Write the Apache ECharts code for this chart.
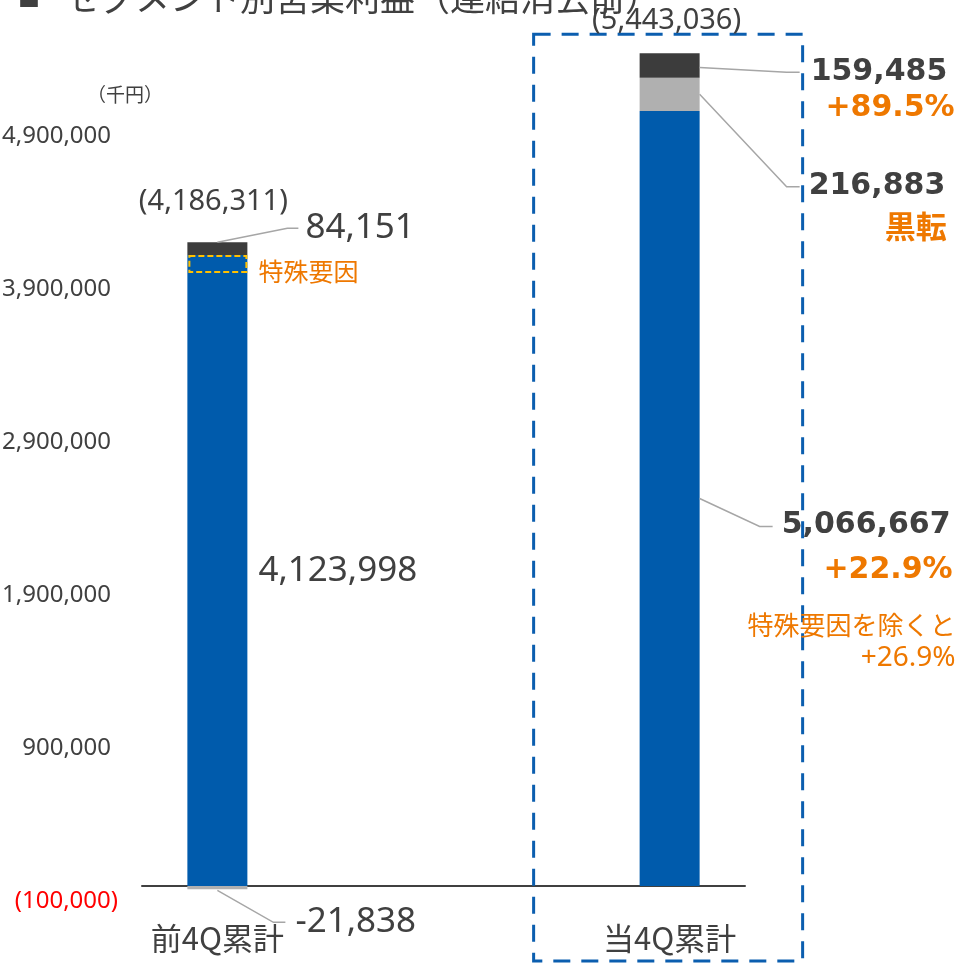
<!DOCTYPE html>
<html>
<head>
<meta charset="utf-8">
<script src="https://cdn.jsdelivr.net/npm/echarts@6/dist/echarts.min.js"></script>
<style>
  html, body { margin: 0; padding: 0; background: #fff; }
  #chart { width: 963px; height: 964px; }
</style>
</head>
<body>
<div id="chart"></div>
<script>
// 前4Q累計 / 当4Q累計 (two empty slots keep the bars apart)
var categories = ["前4Q累計", "", "", "当4Q累計"];
var baseSeg = [4123998, "-", "-", 5066667];   // blue
var midSeg = [-21838, "-", "-", 216883];      // light gray
var topSeg = [84151, "-", "-", 159485];       // dark gray
var totals = ["(4,186,311)", "(5,443,036)"];
var specialFactor = 110000;                   // dashed part inside the previous bar
var growthTop = "+89.5%";
var growthMid = "黒転";
var growthBase = "+22.9%";
var exclNote = ["特殊要因を除くと", "+26.9%"];

var TEXT = "#404040";
var ORANGE = "#EE7800";
var LATIN = '"Noto Sans", "Noto Sans CJK JP", sans-serif';
var CJK = '"Noto Sans CJK JP", sans-serif';
var BOLD = '"DejaVu Sans", "Noto Sans CJK JP", sans-serif';

function fmt(v) {
  return Math.round(v).toLocaleString("en-US");
}

function txt(s, x, y, size, color, family, extra) {
  var st = {
    text: s, x: x, y: y, fontSize: size, fill: color, fontFamily: family,
    align: "left", verticalAlign: "middle"
  };
  for (var k in extra) st[k] = extra[k];
  return { type: "text", style: st };
}

function leader(pts) {
  return {
    type: "polyline",
    shape: { points: pts },
    style: { stroke: "#A6A6A6", lineWidth: 1.5, fill: null }
  };
}

// leader lines, notes and the dashed frames, placed from the bar values
function renderNotes(params, api) {
  var i = api.value(0);
  var cx = api.coord([i, 0])[0];
  var y0 = api.coord([i, 0])[1];
  var y = function (v) { return api.coord([i, v])[1]; };
  var kids = [];

  if (i === 0) {
    var blueTop = y(baseSeg[0]);
    var top = y(baseSeg[0] + topSeg[0]);
    var neg = y(midSeg[0]);
    kids.push({
      type: "rect",
      shape: { x: cx - 28, y: blueTop + 1, width: 57, height: y(baseSeg[0] - specialFactor) - blueTop - 1 },
      style: { fill: null, stroke: "#FFC000", lineWidth: 2, lineDash: [6, 3] }
    });
    kids.push(txt("特殊要因", cx + 41, blueTop + 16, 25, ORANGE, CJK));
    kids.push(txt(totals[0], cx - 4, top - 40, 29, TEXT, LATIN, { align: "center" }));
    kids.push(leader([[cx, top], [cx + 70, top - 14], [cx + 81, top - 14]]));
    kids.push(txt(fmt(topSeg[0]), cx + 88, top - 14, 35, TEXT, LATIN));
    kids.push(leader([[cx, neg + 1], [cx + 56, neg + 33], [cx + 68, neg + 33]]));
    kids.push(txt(fmt(midSeg[0]), cx + 78, neg + 33, 35, TEXT, LATIN));
  } else {
    var bTop = y(baseSeg[3]);
    var gTop = y(baseSeg[3] + midSeg[3]);
    var tTop = y(baseSeg[3] + midSeg[3] + topSeg[3]);
    var bMid = (bTop + y0) / 2;
    var rightEdge = cx + 285;
    kids.push({
      type: "rect",
      shape: { x: cx - 136, y: tTop - 19, width: 269, height: y0 + 75 - (tTop - 19) },
      style: { fill: null, stroke: "#0B5EAF", lineWidth: 3, lineDash: [17, 11] }
    });
    kids.push(txt(totals[1], cx - 3, tTop - 33, 29, TEXT, LATIN, { align: "center" }));

    kids.push(leader([[cx + 30, (tTop + gTop) / 2 + 2], [cx + 117, tTop + 19], [cx + 130, tTop + 19]]));
    kids.push(txt(fmt(topSeg[3]), cx + 141, tTop + 19, 30, TEXT, BOLD, { fontWeight: "bold" }));
    kids.push(txt(growthTop, rightEdge, tTop + 55, 30, ORANGE, BOLD, { fontWeight: "bold", align: "right" }));

    kids.push(leader([[cx + 30, (gTop + bTop) / 2], [cx + 117, gTop + 109], [cx + 130, gTop + 109]]));
    kids.push(txt(fmt(midSeg[3]), cx + 139, gTop + 108, 30, TEXT, BOLD, { fontWeight: "bold" }));
    kids.push(txt(growthMid, cx + 277, gTop + 149, 31, ORANGE, CJK, { fontWeight: "bold", align: "right" }));

    kids.push(leader([[cx + 30, bMid], [cx + 90, bMid + 28], [cx + 103, bMid + 28]]));
    kids.push(txt(fmt(baseSeg[3]), cx + 112, bMid + 27, 30, TEXT, BOLD, { fontWeight: "bold" }));
    kids.push(txt(growthBase, rightEdge - 2, bMid + 72, 30, ORANGE, BOLD, { fontWeight: "bold", align: "right" }));
    kids.push(txt(exclNote[0], rightEdge + 1, bMid + 127, 26, ORANGE, CJK, { align: "right" }));
    kids.push(txt(exclNote[1], rightEdge + 1, bMid + 160, 28, ORANGE, LATIN, { align: "right" }));
  }
  return { type: "group", children: kids };
}

var chart = echarts.init(document.getElementById("chart"));
var option = {
  animation: false,
  title: [
    {
      text: "{sq|■}{t|セグメント別営業利益（連結消去前）}",
      left: 13,
      top: -25,
      textStyle: {
        fontWeight: "normal",
        rich: {
          sq: { fontSize: 22, color: TEXT, fontFamily: CJK, fontWeight: "normal", padding: [0, 25, 0, 0] },
          t: { fontSize: 35, color: TEXT, fontFamily: CJK, fontWeight: "normal" }
        }
      }
    },
    {
      text: "（千円）",
      left: 82,
      top: 80,
      textStyle: { fontSize: 19, fontWeight: "normal", color: TEXT, fontFamily: CJK }
    }
  ],
  grid: { left: 142, right: 218, top: 14, bottom: 62.7, containLabel: false, outerBoundsMode: "none" },
  xAxis: {
    type: "category",
    data: categories,
    axisLine: { lineStyle: { color: TEXT, width: 2 } },
    axisTick: { show: false },
    axisLabel: { interval: 0, margin: 21, fontSize: 31, color: TEXT, fontFamily: CJK }
  },
  yAxis: {
    type: "value",
    min: -100000,
    max: 5700000,
    interval: 100000,
    axisLine: { show: false },
    axisTick: { show: false },
    splitLine: { show: false },
    axisLabel: {
      margin: 24,
      fontSize: 24,
      color: TEXT,
      fontFamily: LATIN,
      formatter: function (v) {
        var k = Math.round(v);
        if ((k + 100000) % 1000000 !== 0) return "";
        if (k < 0) return "{neg|(" + fmt(-k) + ")}";
        return "{pos|" + fmt(k) + "}";
      },
      rich: {
        pos: { fontSize: 24, color: TEXT, fontFamily: LATIN, padding: [0, 7, 0, 0] },
        neg: { fontSize: 24, color: "#FF0000", fontFamily: LATIN }
      }
    }
  },
  series: [
    {
      type: "bar",
      stack: "total",
      barWidth: 60,
      data: baseSeg,
      itemStyle: { color: "#005BAC" },
      label: {
        show: true,
        position: "right",
        distance: 11,
        fontSize: 35,
        color: TEXT,
        fontFamily: LATIN,
        formatter: function (p) { return p.dataIndex === 0 ? fmt(p.value) : ""; }
      }
    },
    {
      type: "bar",
      stack: "total",
      barWidth: 60,
      data: midSeg,
      itemStyle: { color: "#B0B0B0" }
    },
    {
      type: "bar",
      stack: "total",
      barWidth: 60,
      data: topSeg,
      itemStyle: { color: "#3C3C3C" }
    },
    {
      type: "custom",
      renderItem: renderNotes,
      clip: false,
      silent: true,
      z: 5,
      data: [[0, 0], [3, 0]]
    }
  ]
};
chart.setOption(option);
</script>
</body>
</html>
